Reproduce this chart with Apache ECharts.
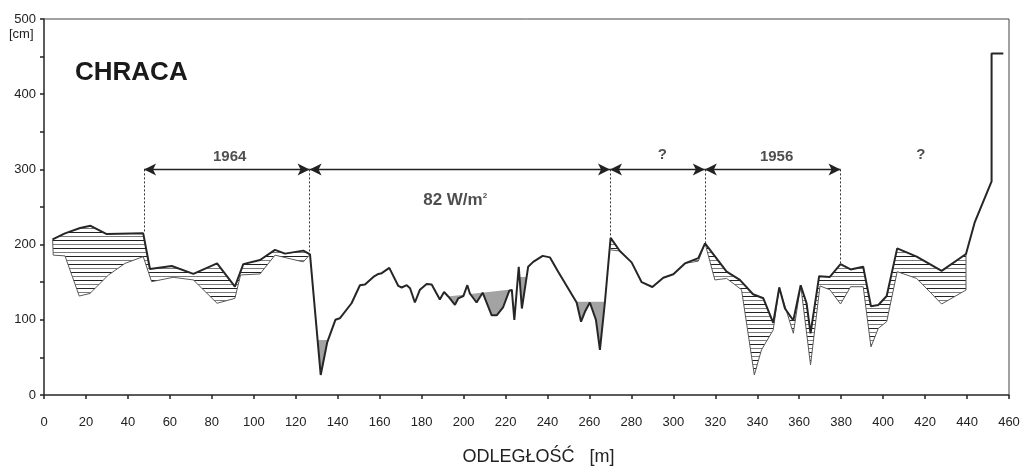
<!DOCTYPE html>
<html><head><meta charset="utf-8">
<script src="https://cdn.jsdelivr.net/npm/echarts@6/dist/echarts.min.js"></script>
<style>html,body{margin:0;padding:0;background:#fff}#c{width:1023px;height:470px}</style>
</head><body><div id="c"></div>
<script>
// ---- data (distance [m], height [cm]) ----
const profile = [[4.1,207],[10,215],[17.2,222],[22.2,225],[29.9,214],[47.3,215],[50.5,167.5],[60.9,171.5],[71.2,161],[82.5,175],[91,144],[95,174],[103,179.5],[110.1,193],[114.9,188],[123.6,192],[126.8,187],[131.9,26.6],[135,70],[138.9,100],[141,102],[146.6,122],[150.6,146],[153,147],[157,157],[159.4,161],[161,162],[164.6,169],[168.9,145],[170.5,143],[172.9,146],[174.5,142],[176.8,123],[179.2,140],[182.4,147.6],[184.8,147],[188.7,127],[190.7,137],[192.7,131],[195.9,120],[197.5,128.6],[199.9,131.6],[201.8,146],[203,135],[206.2,123],[209.1,136],[213.4,106],[215.8,106],[218.9,117],[221.8,138.7],[223,139.6],[224.2,100],[226.3,170.6],[227.8,115],[230.8,170.6],[233.2,177],[237.7,185],[241.2,183],[245.1,164],[253.9,123],[256,97.5],[257.9,111],[260.2,123],[263.1,100],[265,60],[267.4,124],[270.1,209],[274.5,191.5],[280.1,176.4],[284.9,150],[290,143.6],[295.2,156],[300,160.5],[305.5,175],[311.9,182],[315.1,201.7],[325.4,164],[331.7,153],[338,134],[342.9,128.6],[347.6,96],[350.5,143],[353.2,115],[357.2,99],[360.7,146],[363.5,122],[365.4,82],[369.5,158],[374.6,157],[379.7,174],[384.5,167],[390.5,170.6],[394.2,118],[397.7,119.7],[401.7,131.6],[406.7,195],[416,184],[427.9,165],[439.5,187.5],[443.7,230],[451.7,284],[451.7,454],[457.3,454]];

const lowerLeft = [[4.1,207],[4.4,186],[10,185],[16.8,131.6],[21.9,135],[30.7,159.5],[38.6,175],[47.3,184],[51.3,150.7],[61.6,156.5],[71.2,153],[82.5,122],[91,128.5],[93.7,159.6],[103,161],[110.1,186],[123.6,177],[126.8,187]];
const lowerMid = [[270.1,193],[274.5,191.5]];
const lowerRight = [[305.5,175],[311.9,178],[315.1,201.7],[319.8,153],[325.4,155],[332.5,140],[338.6,26.6],[342,60],[347.6,86.5],[350.5,143],[357.2,82],[360.7,146],[365.4,40],[369.9,145],[374.6,140],[379.7,121],[384.5,144],[390.5,144],[394.2,64],[397.7,88.6],[401.7,97.5],[406.7,164],[416,155],[427.9,121],[439.5,139.6],[439.5,187.5]];

// grey-filled hollows: range and water level
const poolFrom = [128.5, 192.5, 226.5, 253.9];
const poolTo = [137, 223.6, 230.5, 268];
const poolLevelFrom = [73, 131, 157, 124];
const poolLevelTo = [73, 140.5, 157, 124];

// period markers
const markerX = [47.7, 126.6, 269.8, 315, 379.7];
const markerTop = [215, 187, 209, 201.7, 174];
const arrowLevel = 300;
const periodLabels = ['1964', '82 W/m{s|2}', '?', '1956', '?'];
const periodLabelX = [88.5, 196, 294.8, 349.2, 418];
const periodLabelY = [317, 259, 319, 317, 319];

const xTicks = {min: 0, max: 460, step: 20};
const yTicks = {min: 0, max: 500, step: 50, labelStep: 100};

// ---- helpers ----
function profileAt(x) {
  for (let i = 0; i < profile.length - 1; i++) {
    const [x0, y0] = profile[i], [x1, y1] = profile[i + 1];
    if (x1 > x0 && x >= x0 && x <= x1) return y0 + (y1 - y0) * (x - x0) / (x1 - x0);
  }
  return null;
}
function poolPolygon(a, b, la, lb) {
  const L = x => la + (lb - la) * (x - a) / (b - a);
  const xs = [a, ...profile.map(p => p[0]).filter(x => x > a && x < b), b];
  const pts = [];
  for (let i = 0; i < xs.length; i++) {
    const x = xs[i], y = profileAt(x), d = y - L(x);
    if (i > 0) {
      const xp = xs[i - 1], yp = profileAt(xp), dp = yp - L(xp);
      if (dp * d < 0) { const t = dp / (dp - d); const xc = xp + (x - xp) * t; pts.push([xc, L(xc)]); }
    }
    pts.push([x, Math.min(y, L(x))]);
  }
  return [[a, la], ...pts, [b, lb]];
}
function hatchPolygon(lower) {
  const a = lower[0][0], b = lower[lower.length - 1][0];
  const upper = profile.filter(p => p[0] >= a && p[0] <= b && p[1] < 400);
  return upper.concat(lower.slice().reverse());
}

const pat = document.createElement('canvas');
pat.width = 4; pat.height = 8;
const pc = pat.getContext('2d');
pc.fillStyle = '#222'; pc.fillRect(0, 0, 4, 1);
pc.fillStyle = '#7a7a7a'; pc.fillRect(0, 4, 4, 1);
const hatchFill = {image: pat, repeat: 'repeat'};

function polySeries(polys, fill, z) {
  return {
    type: 'custom', coordinateSystem: 'cartesian2d', silent: true, animation: false, z: z,
    data: polys.map((p, i) => [p[0][0], p[0][1], i]),
    encode: {x: 0, y: 1},
    renderItem: (params, api) => ({
      type: 'polygon',
      shape: {points: polys[params.dataIndex].map(pt => api.coord(pt))},
      style: {fill: fill, stroke: null}
    })
  };
}

const pools = poolFrom.map((a, i) => poolPolygon(a, poolTo[i], poolLevelFrom[i], poolLevelTo[i]));
const hatches = [lowerLeft, lowerMid, lowerRight].map(hatchPolygon);

const FONT = '"Liberation Sans", Arial, sans-serif';
const chart = echarts.init(document.getElementById('c'), null, {renderer: 'canvas'});

const lowerSeries = [lowerLeft, lowerMid, lowerRight].map(l => ({
  type: 'line', data: l, symbol: 'none', silent: true, animation: false, z: 3,
  lineStyle: {color: '#5a5a5a', width: 1}
}));

chart.setOption({
  animation: false,
  grid: {left: 44, right: 14, top: 19, bottom: 75, show: true, borderColor: '#444', borderWidth: 1,
    containLabel: false, outerBoundsMode: 'none'},
  xAxis: {
    type: 'value', min: xTicks.min, max: xTicks.max, interval: xTicks.step,
    axisLine: {lineStyle: {color: '#444', width: 1.5}},
    axisTick: {show: true, length: 4, lineStyle: {color: '#222', width: 1.5}},
    axisLabel: {margin: 21, fontSize: 13, color: '#222', fontFamily: FONT},
    splitLine: {show: false},
    name: 'ODLEGŁOŚĆ   [m]', nameLocation: 'middle', nameGap: 53,
    nameTextStyle: {fontSize: 18, color: '#222', fontFamily: FONT, padding: [0, 0, 0, 24]}
  },
  yAxis: {
    type: 'value', min: yTicks.min, max: yTicks.max, interval: yTicks.step,
    axisLine: {show: true, lineStyle: {color: '#444', width: 1.5}},
    axisTick: {show: true, length: 4, lineStyle: {color: '#222', width: 1.5}},
    axisLabel: {margin: 8, fontSize: 13, color: '#222', fontFamily: FONT,
      formatter: v => (v % yTicks.labelStep === 0 ? String(v) : '')},
    splitLine: {show: false}
  },
  graphic: [
    {type: 'text', left: 9, top: 28, silent: true,
      style: {text: '[cm]', fontSize: 13, fill: '#222', fontFamily: FONT}},
    {type: 'text', x: 75, y: 72.5, silent: true,
      style: {text: 'CHRACA', fontSize: 26, fontWeight: 'bold', fill: '#1a1a1a', fontFamily: FONT, verticalAlign: 'middle'}}
  ],
  series: [
    polySeries(hatches, hatchFill, 1),
    polySeries(pools, '#a3a3a3', 1),
    ...lowerSeries,
    {
      type: 'line', data: profile, symbol: 'none', silent: true, z: 4,
      lineStyle: {color: '#262626', width: 2}
    },
    {
      type: 'line', data: [], silent: true, z: 5,
      markLine: {
        silent: true, animation: false, symbol: ['arrow', 'arrow'], symbolSize: [9, 12],
        label: {show: false},
        lineStyle: {color: '#222', width: 1.3, type: 'solid'},
        data: markerX.slice(0, -1).map((x, i) => [{coord: [x, arrowLevel]}, {coord: [markerX[i + 1], arrowLevel]}])
      }
    },
    {
      type: 'line', data: [], silent: true, z: 2,
      markLine: {
        silent: true, animation: false, symbol: ['none', 'none'],
        label: {show: false},
        lineStyle: {color: '#333', width: 1, type: [2, 2]},
        data: markerX.map((x, i) => [{coord: [x, arrowLevel]}, {coord: [x, markerTop[i]]}])
      }
    },
    {
      type: 'scatter', symbolSize: 0, silent: true, z: 6,
      data: periodLabels.map((t, i) => ({
        value: [periodLabelX[i], periodLabelY[i]], name: t,
        label: {fontSize: i === 1 ? 17 : 15}
      })),
      label: {
        show: true, position: 'inside', formatter: p => p.name,
        fontWeight: 'bold', color: '#222', fontFamily: FONT,
        rich: {s: {fontSize: 8, fontWeight: 'bold', color: '#222', fontFamily: FONT, padding: [0, 0, 9, 0]}}
      }
    }
  ]
});
</script>
</body></html>
